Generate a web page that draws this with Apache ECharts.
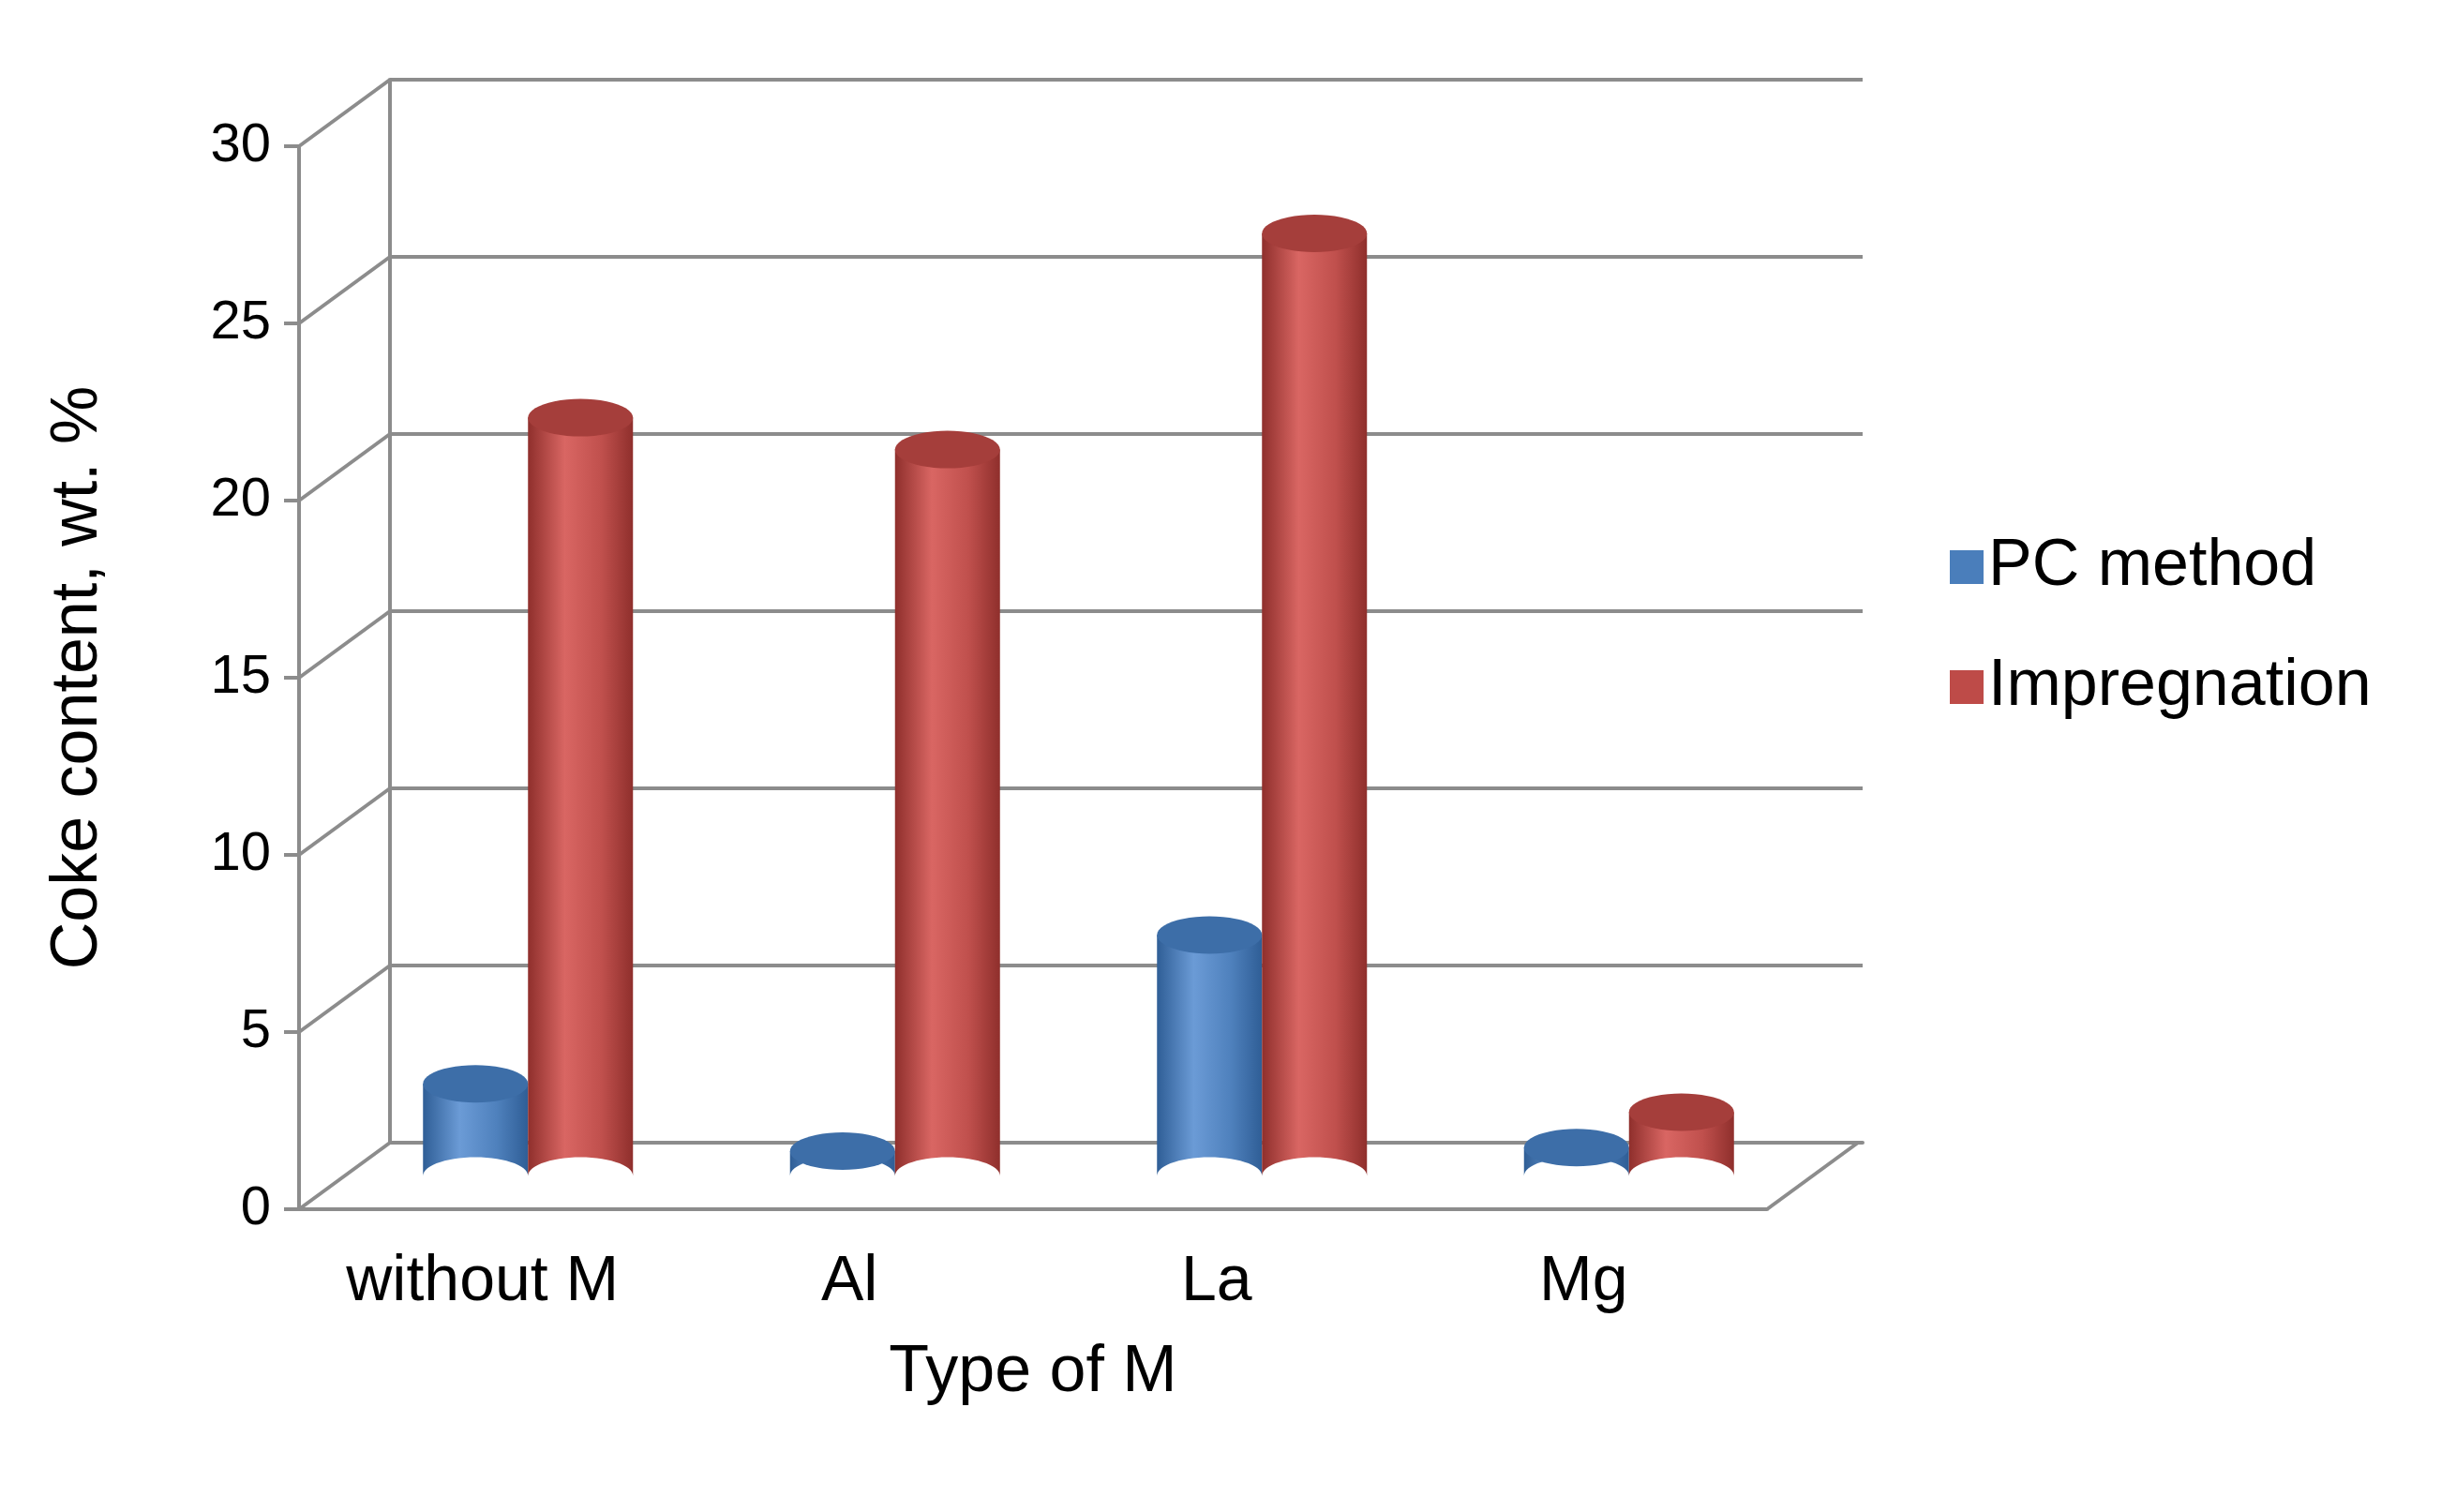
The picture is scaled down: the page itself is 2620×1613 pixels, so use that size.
<!DOCTYPE html>
<html><head><meta charset="utf-8">
<script src="https://cdn.jsdelivr.net/npm/echarts@6/dist/echarts.min.js"></script>
<style>html,body{margin:0;background:#fff}#c{width:2620px;height:1613px}</style>
</head><body><div id="c"></div>
<script>
const categories = ['without M', 'Al', 'La', 'Mg'];
const pcMethod = [2.6, 0.7, 6.8, 0.8];
const impregnation = [21.4, 20.5, 26.6, 1.8];
const yTicks = [0, 5, 10, 15, 20, 25, 30];

const DX = 97, DY = 71, BW = 112, RY = 20;
const FONT = 'Liberation Sans';
const gray = '#8c8c8c';

function ellipsePts(cx, cy, rx, ry, a0, a1, n) {
  const p = [];
  for (let i = 0; i <= n; i++) {
    const a = a0 + (a1 - a0) * i / n;
    p.push([cx + rx * Math.cos(a), cy + ry * Math.sin(a)]);
  }
  return p;
}
function cylinder(side, base, edge, mid, top) {
  return function (params, api) {
    const ci = api.value(0), v = api.value(1);
    const c = api.coord([ci, v]), c0 = api.coord([ci, 0]);
    const cx = c[0] + side * BW / 2 + DX / 2;
    const yt = c[1] - DY / 2, yb = c0[1] - DY / 2;
    const rx = BW / 2;
    const body = [[cx - rx, yt]].concat(ellipsePts(cx, yb, rx, RY, Math.PI, 0, 30).map(p => [p[0], 2 * yb - p[1]]));
    body.push([cx + rx, yt]);
    const grad = new echarts.graphic.LinearGradient(0, 0, 1, 0, [
      {offset: 0, color: edge}, {offset: 0.35, color: mid}, {offset: 0.7, color: base}, {offset: 1, color: edge}]);
    return {type: 'group', children: [
      {type: 'polygon', shape: {points: body}, style: {fill: grad}},
      {type: 'polygon', shape: {points: ellipsePts(cx, yt, rx, RY, 0, 2 * Math.PI, 48)}, style: {fill: top}}
    ]};
  };
}

const chart = echarts.init(document.getElementById('c'));
chart.setOption({
  animation: false,
  grid: [
    {left: 319, width: 1566, top: 156, height: 1134},
    {left: 416, width: 1571, top: 85, height: 1134}
  ],
  legend: {
    orient: 'vertical', left: 2075, top: 565, itemGap: 58, itemWidth: 36, itemHeight: 36, icon: 'rect',
    textStyle: {fontFamily: FONT, fontSize: 70, color: '#000'},
    data: ['PC method', 'Impregnation']
  },
  xAxis: [
    {gridIndex: 0, type: 'category', data: categories,
      name: 'Type of M', nameLocation: 'middle', nameGap: 140,
      nameTextStyle: {fontFamily: FONT, fontSize: 70, color: '#000'},
      axisLine: {lineStyle: {color: gray, width: 4}},
      axisTick: {length: 22, lineStyle: {color: gray, width: 4}},
      axisLabel: {fontFamily: FONT, fontSize: 68, color: '#000', margin: 44}},
    {gridIndex: 1, type: 'category', data: categories,
      axisLine: {lineStyle: {color: gray, width: 4}}, axisTick: {show: false}, axisLabel: {show: false}}
  ],
  yAxis: [
    {gridIndex: 0, type: 'value', min: 0, max: 30, interval: 5,
      name: 'Coke content, wt. %', nameLocation: 'middle', nameGap: 200, nameRotate: 90,
      nameTextStyle: {fontFamily: FONT, fontSize: 70, color: '#000'},
      axisLine: {show: true, lineStyle: {color: gray, width: 4}},
      axisTick: {show: true, length: 16, lineStyle: {color: gray, width: 4}},
      splitLine: {show: false},
      axisLabel: {fontFamily: FONT, fontSize: 58, color: '#000', margin: 30}},
    {gridIndex: 1, type: 'value', min: 0, max: 30, interval: 5,
      axisLine: {show: true, lineStyle: {color: gray, width: 4}}, axisTick: {show: false},
      axisLabel: {show: false}, splitLine: {lineStyle: {color: gray, width: 4}}}
  ],
  series: [
    {type: 'custom', xAxisIndex: 0, yAxisIndex: 0, silent: true, z: 1,
      data: yTicks.map(t => [0, t]),
      renderItem: function (params, api) {
        const v = api.value(1);
        const p = api.coord([0, v]);
        const half = api.size([1, 0])[0] / 2;
        const x = p[0] - half;
        const ch = [{type: 'line', shape: {x1: x, y1: p[1], x2: x + DX, y2: p[1] - DY}, style: {stroke: gray, lineWidth: 4}}];
        if (v === 0) {
          const q = api.coord([categories.length - 1, 0]);
          const xr = q[0] + half;
          ch.push({type: 'line', shape: {x1: xr, y1: q[1], x2: xr + DX, y2: q[1] - DY}, style: {stroke: gray, lineWidth: 4}});
        }
        return {type: 'group', children: ch};
      }},
    {name: 'PC method', type: 'custom', xAxisIndex: 0, yAxisIndex: 0, z: 3,
      itemStyle: {color: '#4a7ebb'},
      data: pcMethod.map((v, i) => [i, v]),
      renderItem: cylinder(-1, '#4f81bd', '#2f5e96', '#6b9bd6', '#3d6ea8')},
    {name: 'Impregnation', type: 'custom', xAxisIndex: 0, yAxisIndex: 0, z: 3,
      itemStyle: {color: '#be4b48'},
      data: impregnation.map((v, i) => [i, v]),
      renderItem: cylinder(1, '#c0504d', '#8f2f2c', '#d96663', '#a53e3b')}
  ]
});
</script></body></html>
